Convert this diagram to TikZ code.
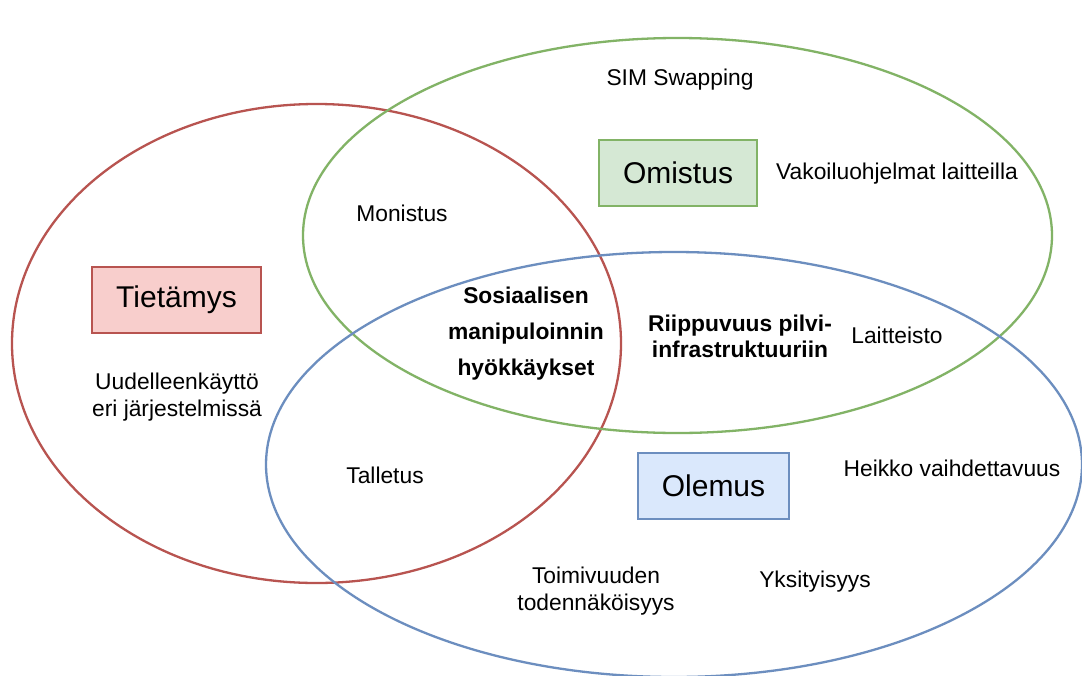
\documentclass[tikz,border=0pt]{standalone}
\usepackage{fontspec}
\setmainfont{Liberation Sans}
\definecolor{redline}{HTML}{B85450}
\definecolor{redfill}{HTML}{F8CECC}
\definecolor{greenline}{HTML}{82B366}
\definecolor{greenfill}{HTML}{D5E8D4}
\definecolor{blueline}{HTML}{6C8EBF}
\definecolor{bluefill}{HTML}{DAE8FC}
\tikzset{
  setline/.style={line width=2.3pt},
  catbox/.style={draw, line width=2.3pt, minimum height=66pt, inner sep=0pt,
    font=\fontsize{30}{36}\selectfont},
  lbl/.style={align=center, inner sep=0pt, yshift=-2pt, font=\fontsize{22.8}{27}\selectfont},
  blbl/.style={align=center, inner sep=0pt, yshift=-2pt, font=\fontsize{22.8}{26}\selectfont\bfseries},
}
\begin{document}
\begin{tikzpicture}[x=1pt,y=-1pt]
\clip (0,0) rectangle (1082,675);
\fill[white] (0,0) rectangle (1082,675);

% the three sets
\draw[setline, redline] (316.5,343.5) ellipse [x radius=304.5, y radius=239.5];
\draw[setline, greenline] (677.5,235.5) ellipse [x radius=374.5, y radius=197.5];
\draw[setline, blueline] (674,464.5) ellipse [x radius=408, y radius=212.5];

% category boxes
\node[catbox, draw=redline, fill=redfill, minimum width=169pt] (tietamys) at (176.5,300) {Tietämys};
\node[catbox, draw=greenline, fill=greenfill, minimum width=158pt] (omistus) at (678,173) {Omistus};
\node[catbox, draw=blueline, fill=bluefill, minimum width=151pt] (olemus) at (713.5,486) {Olemus};

% labels
\node[lbl] (sim) at (680,78) {SIM Swapping};
\node[lbl] (vakoilu) at (897,172) {Vakoiluohjelmat laitteilla};
\node[lbl] (monistus) at (402,211) {Monistus};
\node[blbl, font=\fontsize{22.8}{36}\selectfont\bfseries] (sosiaalinen) at (526,332) {Sosiaalisen\\manipuloinnin\\hyökkäykset};
\node[blbl] (riippuvuus) at (740,334) {Riippuvuus pilvi-\\infrastruktuuriin};
\node[lbl] (laitteisto) at (897,333) {Laitteisto};
\node[lbl] (uudelleen) at (177,395.5) {Uudelleenkäyttö\\eri järjestelmissä};
\node[lbl] (talletus) at (385,473) {Talletus};
\node[lbl] (heikko) at (952,466) {Heikko vaihdettavuus};
\node[lbl] (toimivuus) at (596,589.5) {Toimivuuden\\todennäköisyys};
\node[lbl] (yksityisyys) at (815,580) {Yksityisyys};
\end{tikzpicture}
\end{document}
